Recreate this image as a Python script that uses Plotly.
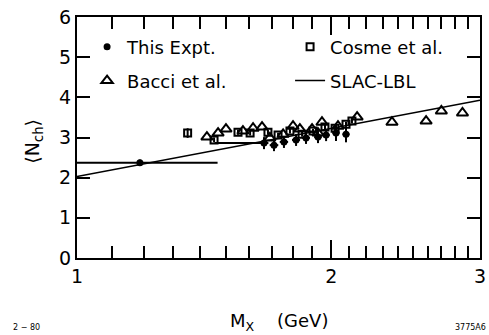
import plotly.graph_objects as go

# ---- data ----
this_m = [1.187, 1.665, 1.711, 1.758, 1.817, 1.867, 1.929, 1.972, 2.026, 2.082]
this_n = [2.37, 2.86, 2.81, 2.89, 2.94, 2.99, 3.01, 3.06, 3.11, 3.08]
this_err = [0.08, 0.15, 0.15, 0.15, 0.15, 0.15, 0.15, 0.15, 0.2, 0.2]
this_xerr_plus = [0.28, 0.02, 0.02, 0.02, 0.02, 0.02, 0.02, 0.02, 0.02, 0.02]
this_xerr_minus = [0.187, 0.21, 0.02, 0.02, 0.02, 0.02, 0.02, 0.02, 0.02, 0.02]

cosme_m = [1.352, 1.453, 1.551, 1.603, 1.683, 1.730, 1.787, 1.847, 1.903, 1.966, 2.021, 2.082, 2.116]
cosme_n = [3.11, 2.94, 3.13, 3.11, 3.13, 3.06, 3.16, 3.08, 3.16, 3.26, 3.23, 3.33, 3.41]
cosme_err = [0.12, 0.06, 0.06, 0.06, 0.06, 0.06, 0.06, 0.06, 0.06, 0.06, 0.06, 0.06, 0.06]

bacci_m = [1.425, 1.469, 1.501, 1.572, 1.616, 1.656, 1.692, 1.754, 1.802, 1.836,
           1.898, 1.929, 1.950, 2.037, 2.146, 2.36, 2.59, 2.70, 2.86]
bacci_n = [3.01, 3.11, 3.21, 3.16, 3.23, 3.26, 2.99, 3.08, 3.28, 3.21,
           3.21, 3.11, 3.38, 3.28, 3.51, 3.38, 3.41, 3.66, 3.61]

slac_m = [1.0, 3.0]
slac_n = [2.03, 3.93]

x_minor_ticks = [1.1, 1.2, 1.3, 1.4, 1.5, 1.6, 1.7, 1.8, 1.9, 2.1, 2.2, 2.3, 2.4, 2.5, 2.6, 2.7, 2.8, 2.9]
x_major_ticks = [1, 2, 3]
y_ticks = [0, 1, 2, 3, 4, 5, 6]

FONT = "DejaVu Sans"

fig = go.Figure()

fig.add_trace(go.Scatter(
    x=this_m, y=this_n, mode="markers", name="This Expt.",
    marker=dict(symbol="circle", size=7, color="black"),
    error_y=dict(type="data", array=this_err, color="black", thickness=2, width=0),
    error_x=dict(type="data", array=this_xerr_plus, arrayminus=this_xerr_minus,
                 color="black", thickness=2, width=0),
    legend="legend",
))
fig.add_trace(go.Scatter(
    x=cosme_m, y=cosme_n, mode="markers", name="Cosme et al.",
    marker=dict(symbol="square-open", size=7, color="black", line=dict(width=2)),
    error_y=dict(type="data", array=cosme_err, color="black", thickness=2, width=0),
    legend="legend",
))
fig.add_trace(go.Scatter(
    x=bacci_m, y=bacci_n, mode="markers", name="Bacci et al.",
    marker=dict(symbol="triangle-up-open", size=10, color="black", line=dict(width=2)),
    legend="legend2",
))
fig.add_trace(go.Scatter(
    x=slac_m, y=slac_n, mode="lines", name="SLAC-LBL",
    line=dict(color="black", width=1.5),
    legend="legend2",
))

legend_common = dict(
    orientation="h", xanchor="left", yanchor="middle",
    font=dict(family=FONT, size=18, color="black"),
    bgcolor="rgba(0,0,0,0)", entrywidth=158, entrywidthmode="pixels",
    itemclick=False, itemdoubleclick=False,
)

fig.update_layout(
    width=489, height=335,
    margin=dict(l=77, r=9, t=17, b=77, autoexpand=False),
    paper_bgcolor="white", plot_bgcolor="white",
    font=dict(family=FONT, color="black"),
    showlegend=True,
    legend=dict(x=0.025, y=0.875, **legend_common),
    legend2=dict(x=0.025, y=0.735, **legend_common),
    xaxis=dict(
        type="log", range=[0, 0.47712], automargin=False,
        tickmode="array", tickvals=x_major_ticks, ticktext=[str(v) for v in x_major_ticks],
        ticks="inside", ticklen=18, tickwidth=1.5, tickcolor="black",
        showline=True, linecolor="black", linewidth=2, mirror="ticks",
        showgrid=False, zeroline=False,
        tickfont=dict(family=FONT, size=19, color="black"),
        minor=dict(tickmode="array", tickvals=x_minor_ticks, ticks="inside",
                   ticklen=12, tickwidth=1.5, tickcolor="black", showgrid=False),
    ),
    yaxis=dict(
        range=[0, 6], tickmode="array", tickvals=y_ticks, automargin=False,
        ticks="inside", ticklen=13, tickwidth=1.5, tickcolor="black",
        showline=True, linecolor="black", linewidth=2, mirror="ticks",
        showgrid=False, zeroline=False,
        tickfont=dict(family=FONT, size=19, color="black"),
    ),
    annotations=[
        dict(text="\u27e8N<sub>ch</sub>\u27e9", xref="paper", yref="paper",
             x=-0.11, y=0.485, textangle=-90, showarrow=False,
             xanchor="center", yanchor="middle",
             font=dict(family=FONT, size=19, color="black")),
        dict(text="M<sub>X</sub>    (GeV)", xref="paper", yref="paper",
             x=0.5, y=-0.265, showarrow=False, xanchor="center", yanchor="middle",
             font=dict(family=FONT, size=18, color="black")),
        dict(text="2 \u2212 80", xref="paper", yref="paper",
             x=-0.165, y=-0.29, showarrow=False, xanchor="left", yanchor="middle",
             font=dict(family=FONT, size=8, color="black")),
        dict(text="3775A6", xref="paper", yref="paper",
             x=1.02, y=-0.29, showarrow=False, xanchor="right", yanchor="middle",
             font=dict(family=FONT, size=8, color="black")),
    ],
)

fig.write_html("out.html", config={"displayModeBar": False},
               post_script="document.body.style.margin='0px';document.body.style.overflow='hidden';")
